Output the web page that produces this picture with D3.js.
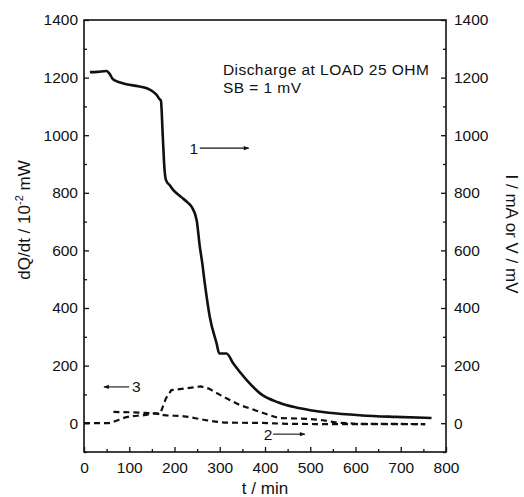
<!DOCTYPE html>
<html lang="en">
<head>
  <meta charset="UTF-8">
  <title>Discharge at load 25 Ohm</title>
  <script src="https://d3js.org/d3.v7.min.js"></script>
  <style>
    body { margin: 0; background: #fff; }
    text { font-family: Arial, "Liberation Sans", sans-serif; fill: #111; }
  </style>
</head>
<body>
  <svg id="chart" width="524" height="497"></svg>
  <script>
    // curve 1, solid
    const curve1T = [13, 30, 50, 57, 64, 80, 94, 120, 139, 152, 160, 167, 170, 174, 178, 181, 190, 197, 215, 230, 238, 249, 256, 261, 267, 278, 293, 299, 315, 330, 360, 392, 430, 467, 500, 541, 614, 688, 768];
    const curve1V = [1219, 1220, 1223, 1212, 1194, 1183, 1177, 1170, 1163, 1152, 1141, 1125, 1120, 1000, 880, 845, 825, 810, 785, 765, 751, 705, 612, 560, 485, 369, 277, 242, 242, 207, 149, 100, 72, 55, 45, 36, 27, 22, 18];

    // curve 2, lower dashed
    const curve2T = [0, 50, 58, 74, 96, 133, 158, 177, 221, 272, 317, 390, 450, 540, 754];
    const curve2V = [0, 0, 1, 10, 22, 28, 34, 28, 24, 10, 2, 1, -2, -3, -3];

    // curve 3, upper dashed
    const curve3T = [65, 100, 133, 158, 168, 181, 193, 221, 258, 276, 309, 346, 390, 410, 430, 480, 520, 560, 600, 754];
    const curve3V = [39, 38, 36, 34, 31, 86, 115, 120, 128, 120, 91, 62, 39, 28, 18, 16, 12, 2, -2, -3];

    const xMajor = [0, 100, 200, 300, 400, 500, 600, 700, 800];
    const xMinor = [50, 150, 250, 350, 450, 550, 650, 750];
    const yMajor = [0, 200, 400, 600, 800, 1000, 1200, 1400];
    const yMinor = [-100, 100, 300, 500, 700, 900, 1100, 1300];

    const width = 524, height = 497;
    const margin = { top: 20, right: 78, bottom: 45, left: 84 };

    const svg = d3.select('#chart');
    const fmt = d3.format('d');

    const x = d3.scaleLinear().domain([0, 800]).range([margin.left, width - margin.right]);
    const y = d3.scaleLinear().domain([-100, 1400]).range([height - margin.bottom, margin.top]);

    // axes, ticks point inward
    svg.append('g')
      .attr('transform', `translate(0,${height - margin.bottom})`)
      .call(d3.axisBottom(x).tickValues(xMajor).tickFormat(fmt).tickSize(-5).tickSizeOuter(0).tickPadding(10))
      .call(g => g.select('.domain').remove());
    svg.append('g')
      .attr('transform', `translate(0,${height - margin.bottom})`)
      .call(d3.axisBottom(x).tickValues(xMinor).tickSize(-3).tickFormat(''))
      .call(g => g.select('.domain').remove());

    svg.append('g')
      .attr('transform', `translate(${margin.left},0)`)
      .call(d3.axisLeft(y).tickValues(yMajor).tickFormat(fmt).tickSize(-5).tickPadding(6))
      .call(g => g.select('.domain').remove());
    svg.append('g')
      .attr('transform', `translate(${margin.left},0)`)
      .call(d3.axisLeft(y).tickValues(yMinor).tickSize(-3).tickFormat(''))
      .call(g => g.select('.domain').remove());

    svg.append('g')
      .attr('transform', `translate(${width - margin.right},0)`)
      .call(d3.axisRight(y).tickValues(yMajor).tickFormat(fmt).tickSize(-5).tickPadding(8))
      .call(g => g.select('.domain').remove());
    svg.append('g')
      .attr('transform', `translate(${width - margin.right},0)`)
      .call(d3.axisRight(y).tickValues(yMinor).tickSize(-3).tickFormat(''))
      .call(g => g.select('.domain').remove());

    svg.selectAll('.tick line').attr('stroke', '#111').attr('stroke-width', 1.3);
    svg.selectAll('.tick text').attr('font-size', 15.5).attr('fill', '#111')
      .style('font-family', 'Arial, "Liberation Sans", sans-serif');

    // frame
    svg.append('rect')
      .attr('x', x(0)).attr('y', y(1400))
      .attr('width', x(800) - x(0)).attr('height', y(-100) - y(1400))
      .attr('fill', 'none').attr('stroke', '#111').attr('stroke-width', 1.6);

    // curves
    const line = d3.line().x(d => x(d[0])).y(d => y(d[1])).curve(d3.curveMonotoneX);
    const zip = (ts, vs) => ts.map((t, i) => [t, vs[i]]);

    svg.append('path')
      .datum(zip(curve1T, curve1V))
      .attr('d', line)
      .attr('fill', 'none').attr('stroke', '#111').attr('stroke-width', 2.6);

    svg.append('path')
      .datum(zip(curve2T, curve2V))
      .attr('d', line)
      .attr('fill', 'none').attr('stroke', '#111').attr('stroke-width', 2.2)
      .attr('stroke-dasharray', '6,4');

    svg.append('path')
      .datum(zip(curve3T, curve3V))
      .attr('d', d3.line().x(d => x(d[0])).y(d => y(d[1])))
      .attr('fill', 'none').attr('stroke', '#111').attr('stroke-width', 2.2)
      .attr('stroke-dasharray', '6,4');

    // annotations
    svg.append('text').attr('x', x(307)).attr('y', 75).attr('font-size', 15.5)
      .attr('letter-spacing', 0.45)
      .text('Discharge at LOAD 25 OHM');
    svg.append('text').attr('x', x(307)).attr('y', 93).attr('font-size', 15.5)
      .attr('letter-spacing', 0.45)
      .text('SB = 1 mV');

    svg.append('defs').append('marker')
      .attr('id', 'arrow').attr('viewBox', '0 0 10 10')
      .attr('refX', 9).attr('refY', 5)
      .attr('markerWidth', 7).attr('markerHeight', 5)
      .attr('orient', 'auto-start-reverse')
      .append('path').attr('d', 'M0,1L10,5L0,9Z').attr('fill', '#111');

    function arrow(t1, t2, v, txt, tx, dir) {
      svg.append('line')
        .attr('x1', x(t1)).attr('x2', x(t2)).attr('y1', y(v)).attr('y2', y(v))
        .attr('stroke', '#111').attr('stroke-width', 1.1)
        .attr(dir > 0 ? 'marker-end' : 'marker-start', 'url(#arrow)');
      svg.append('text').attr('x', x(tx)).attr('y', y(v) + 5.5)
        .attr('font-size', 15.5).text(txt);
    }
    arrow(256, 364, 955, '1', 233, 1);
    arrow(418, 488, -38, '2', 397, 1);
    arrow(44, 100, 126, '3', 106, -1);

    // axis titles
    svg.append('text')
      .attr('x', x(400)).attr('y', 494)
      .attr('text-anchor', 'middle').attr('font-size', 17)
      .text('t / min');

    const lt = svg.append('text')
      .attr('transform', 'translate(30,220) rotate(-90)')
      .attr('text-anchor', 'middle').attr('font-size', 17);
    lt.append('tspan').text('dQ/dt / 10');
    lt.append('tspan').attr('dy', -7).attr('font-size', 11).text('-2');
    lt.append('tspan').attr('dy', 7).text(' mW');

    svg.append('text')
      .attr('transform', 'translate(506,234) rotate(90)')
      .attr('text-anchor', 'middle').attr('font-size', 17)
      .text('I / mA or V / mV');
  </script>
</body>
</html>
